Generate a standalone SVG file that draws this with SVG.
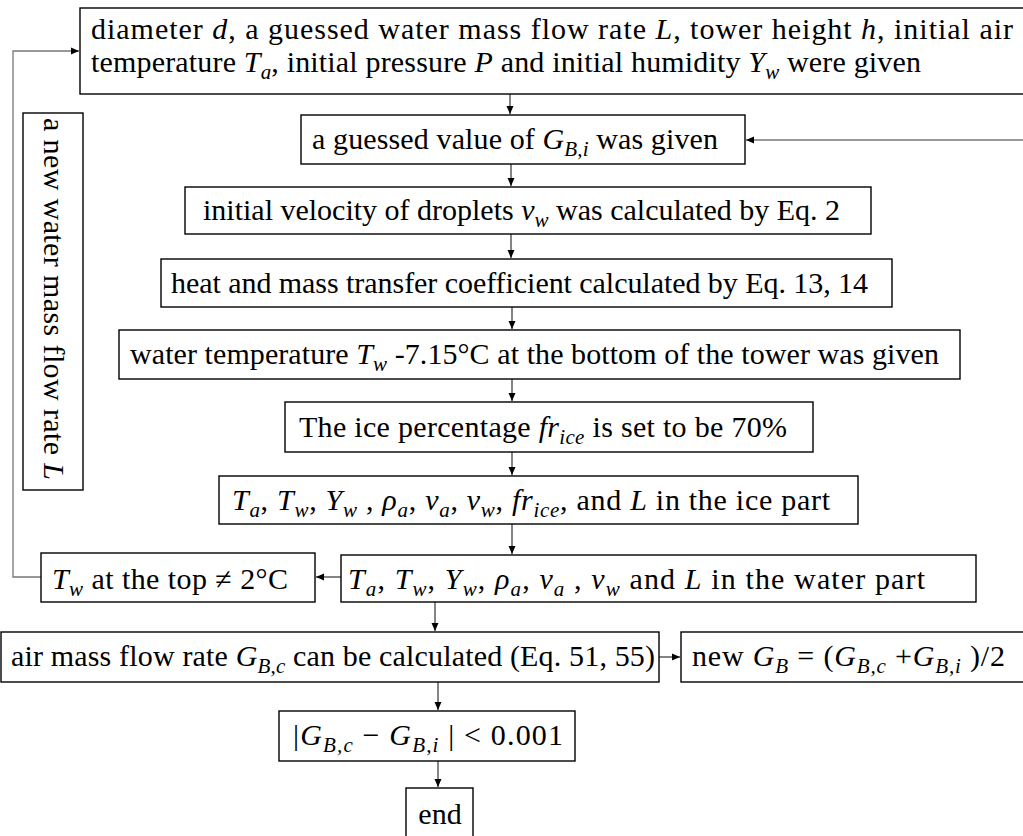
<svg xmlns="http://www.w3.org/2000/svg" width="1023" height="836" viewBox="0 0 1023 836">
<style>
text{font-family:"Liberation Serif","Times New Roman",serif;font-size:30px;fill:#000}
.m{font-style:italic}
.s{font-style:italic;font-size:21px}
.box{fill:#fff;stroke:#000;stroke-width:1.4}
.c{fill:none;stroke:#222;stroke-width:1.1}
.g{fill:none;stroke:#777;stroke-width:1.3}
</style>
<defs>
<marker id="ah" markerUnits="userSpaceOnUse" markerWidth="9" markerHeight="8" refX="8" refY="4" orient="auto">
<path d="M0,0.5 L8,4 L0,7.5 z" fill="#000"/>
</marker>
</defs>
<rect width="1023" height="836" fill="#fff"/>
<g id="connectors">
<line class="c" x1="510" y1="94" x2="510" y2="114" marker-end="url(#ah)"/>
<line class="c" x1="511" y1="164" x2="511" y2="186" marker-end="url(#ah)"/>
<line class="c" x1="511" y1="234" x2="511" y2="258" marker-end="url(#ah)"/>
<line class="c" x1="512" y1="307" x2="512" y2="329" marker-end="url(#ah)"/>
<line class="c" x1="512" y1="379" x2="512" y2="401" marker-end="url(#ah)"/>
<line class="c" x1="512" y1="452" x2="512" y2="475" marker-end="url(#ah)"/>
<line class="c" x1="512" y1="524" x2="512" y2="554" marker-end="url(#ah)"/>
<line class="c" x1="341" y1="577" x2="316" y2="577" marker-end="url(#ah)"/>
<line class="c" x1="435" y1="602" x2="435" y2="631" marker-end="url(#ah)"/>
<polyline class="g" points="41,577 13,577 13,51 79,51" marker-end="url(#ah)"/>
<line class="g" x1="1023" y1="140" x2="746" y2="140" marker-end="url(#ah)"/>
<line class="c" x1="659" y1="657" x2="680" y2="657" marker-end="url(#ah)"/>
<line class="c" x1="438" y1="682" x2="438" y2="710" marker-end="url(#ah)"/>
<line class="c" x1="438" y1="761" x2="438" y2="787" marker-end="url(#ah)"/>
</g>
<g id="n-inputs">
<rect class="box" x="80" y="8" width="960" height="86"/>
<text x="91" y="39" textLength="922" lengthAdjust="spacing">diameter <tspan class="m">d</tspan>, a guessed water mass flow rate <tspan class="m">L</tspan>, tower height <tspan class="m">h</tspan>, initial air</text>
<text x="91" y="72" textLength="830" lengthAdjust="spacing">temperature <tspan class="m">T</tspan><tspan class="s" baseline-shift="-7">a</tspan>, initial pressure <tspan class="m">P</tspan> and initial humidity <tspan class="m">Y</tspan><tspan class="s" baseline-shift="-7">w</tspan> were given</text>
</g>
<g id="n-guess">
<rect class="box" x="301" y="115" width="444" height="49"/>
<text x="312" y="149" textLength="406" lengthAdjust="spacing">a guessed value of <tspan class="m">G</tspan><tspan class="s" baseline-shift="-7">B,i</tspan>  was given</text>
</g>
<g id="n-velocity">
<rect class="box" x="185" y="187" width="686" height="47"/>
<text x="203" y="220" textLength="637" lengthAdjust="spacing">initial velocity of droplets <tspan class="m">v</tspan><tspan class="s" baseline-shift="-7">w</tspan> was calculated by Eq. 2</text>
</g>
<g id="n-coeff">
<rect class="box" x="161" y="259" width="731" height="48"/>
<text x="171" y="293" textLength="697" lengthAdjust="spacing">heat and mass transfer coefficient calculated by Eq. 13, 14</text>
</g>
<g id="n-watertemp">
<rect class="box" x="119" y="330" width="841" height="49"/>
<text x="130" y="364" textLength="809" lengthAdjust="spacing">water temperature <tspan class="m">T</tspan><tspan class="s" baseline-shift="-7">w</tspan>  -7.15°C at the bottom of the tower was given</text>
</g>
<g id="n-icepct">
<rect class="box" x="285" y="402" width="528" height="50"/>
<text x="299" y="437" textLength="488" lengthAdjust="spacing">The ice percentage <tspan class="m">fr</tspan><tspan class="s" baseline-shift="-7">ice</tspan> is set to be 70%</text>
</g>
<g id="n-icepart">
<rect class="box" x="219" y="476" width="639" height="48"/>
<text x="232" y="510" textLength="598" lengthAdjust="spacing"><tspan class="m">T</tspan><tspan class="s" baseline-shift="-7">a</tspan>, <tspan class="m">T</tspan><tspan class="s" baseline-shift="-7">w</tspan>, <tspan class="m">Y</tspan><tspan class="s" baseline-shift="-7">w</tspan> , <tspan class="m">ρ</tspan><tspan class="s" baseline-shift="-7">a</tspan>, <tspan class="m">v</tspan><tspan class="s" baseline-shift="-7">a</tspan>, <tspan class="m">v</tspan><tspan class="s" baseline-shift="-7">w</tspan>, <tspan class="m">fr</tspan><tspan class="s" baseline-shift="-7">ice</tspan>, and <tspan class="m">L</tspan> in the ice part</text>
</g>
<g id="n-waterpart">
<rect class="box" x="341" y="555" width="635" height="47"/>
<text x="348" y="589" textLength="577" lengthAdjust="spacing"><tspan class="m">T</tspan><tspan class="s" baseline-shift="-7">a</tspan>,  <tspan class="m">T</tspan><tspan class="s" baseline-shift="-7">w</tspan>, <tspan class="m">Y</tspan><tspan class="s" baseline-shift="-7">w</tspan>, <tspan class="m">ρ</tspan><tspan class="s" baseline-shift="-7">a</tspan>,  <tspan class="m">v</tspan><tspan class="s" baseline-shift="-7">a</tspan> , <tspan class="m">v</tspan><tspan class="s" baseline-shift="-7">w</tspan> and <tspan class="m">L</tspan> in the water part</text>
</g>
<g id="n-twtop">
<rect class="box" x="41" y="553" width="274" height="49"/>
<text x="52" y="589" textLength="236" lengthAdjust="spacing"><tspan class="m">T</tspan><tspan class="s" baseline-shift="-7">w</tspan> at the top ≠ 2°C</text>
</g>
<g id="n-newL">
<rect class="box" x="23" y="113" width="60" height="377"/>
<text transform="translate(44,118) rotate(90)" x="0" y="0" textLength="362" lengthAdjust="spacing">a new  water mass flow rate <tspan class="m">L</tspan></text>
</g>
<g id="n-airmass">
<rect class="box" x="1" y="632" width="658" height="50"/>
<text x="11" y="666" textLength="644" lengthAdjust="spacing">air mass flow rate <tspan class="m">G</tspan><tspan class="s" baseline-shift="-7">B,c</tspan> can be calculated (Eq. 51, 55)</text>
</g>
<g id="n-newG">
<rect class="box" x="681" y="632" width="360" height="50"/>
<text x="692" y="666" textLength="313" lengthAdjust="spacing">new <tspan class="m">G</tspan><tspan class="s" baseline-shift="-7">B</tspan> = (<tspan class="m">G</tspan><tspan class="s" baseline-shift="-7">B,c</tspan> +<tspan class="m">G</tspan><tspan class="s" baseline-shift="-7">B,i</tspan> )/2</text>
</g>
<g id="n-check">
<rect class="box" x="279" y="711" width="296" height="50"/>
<text x="293" y="745" textLength="270" lengthAdjust="spacing">|<tspan class="m">G</tspan><tspan class="s" baseline-shift="-7">B,c</tspan> − <tspan class="m">G</tspan><tspan class="s" baseline-shift="-7">B,i</tspan> | &lt; 0.001</text>
</g>
<g id="n-end">
<rect class="box" x="406" y="788" width="67" height="60"/>
<text x="440" y="824" text-anchor="middle">end</text>
</g>
</svg>
